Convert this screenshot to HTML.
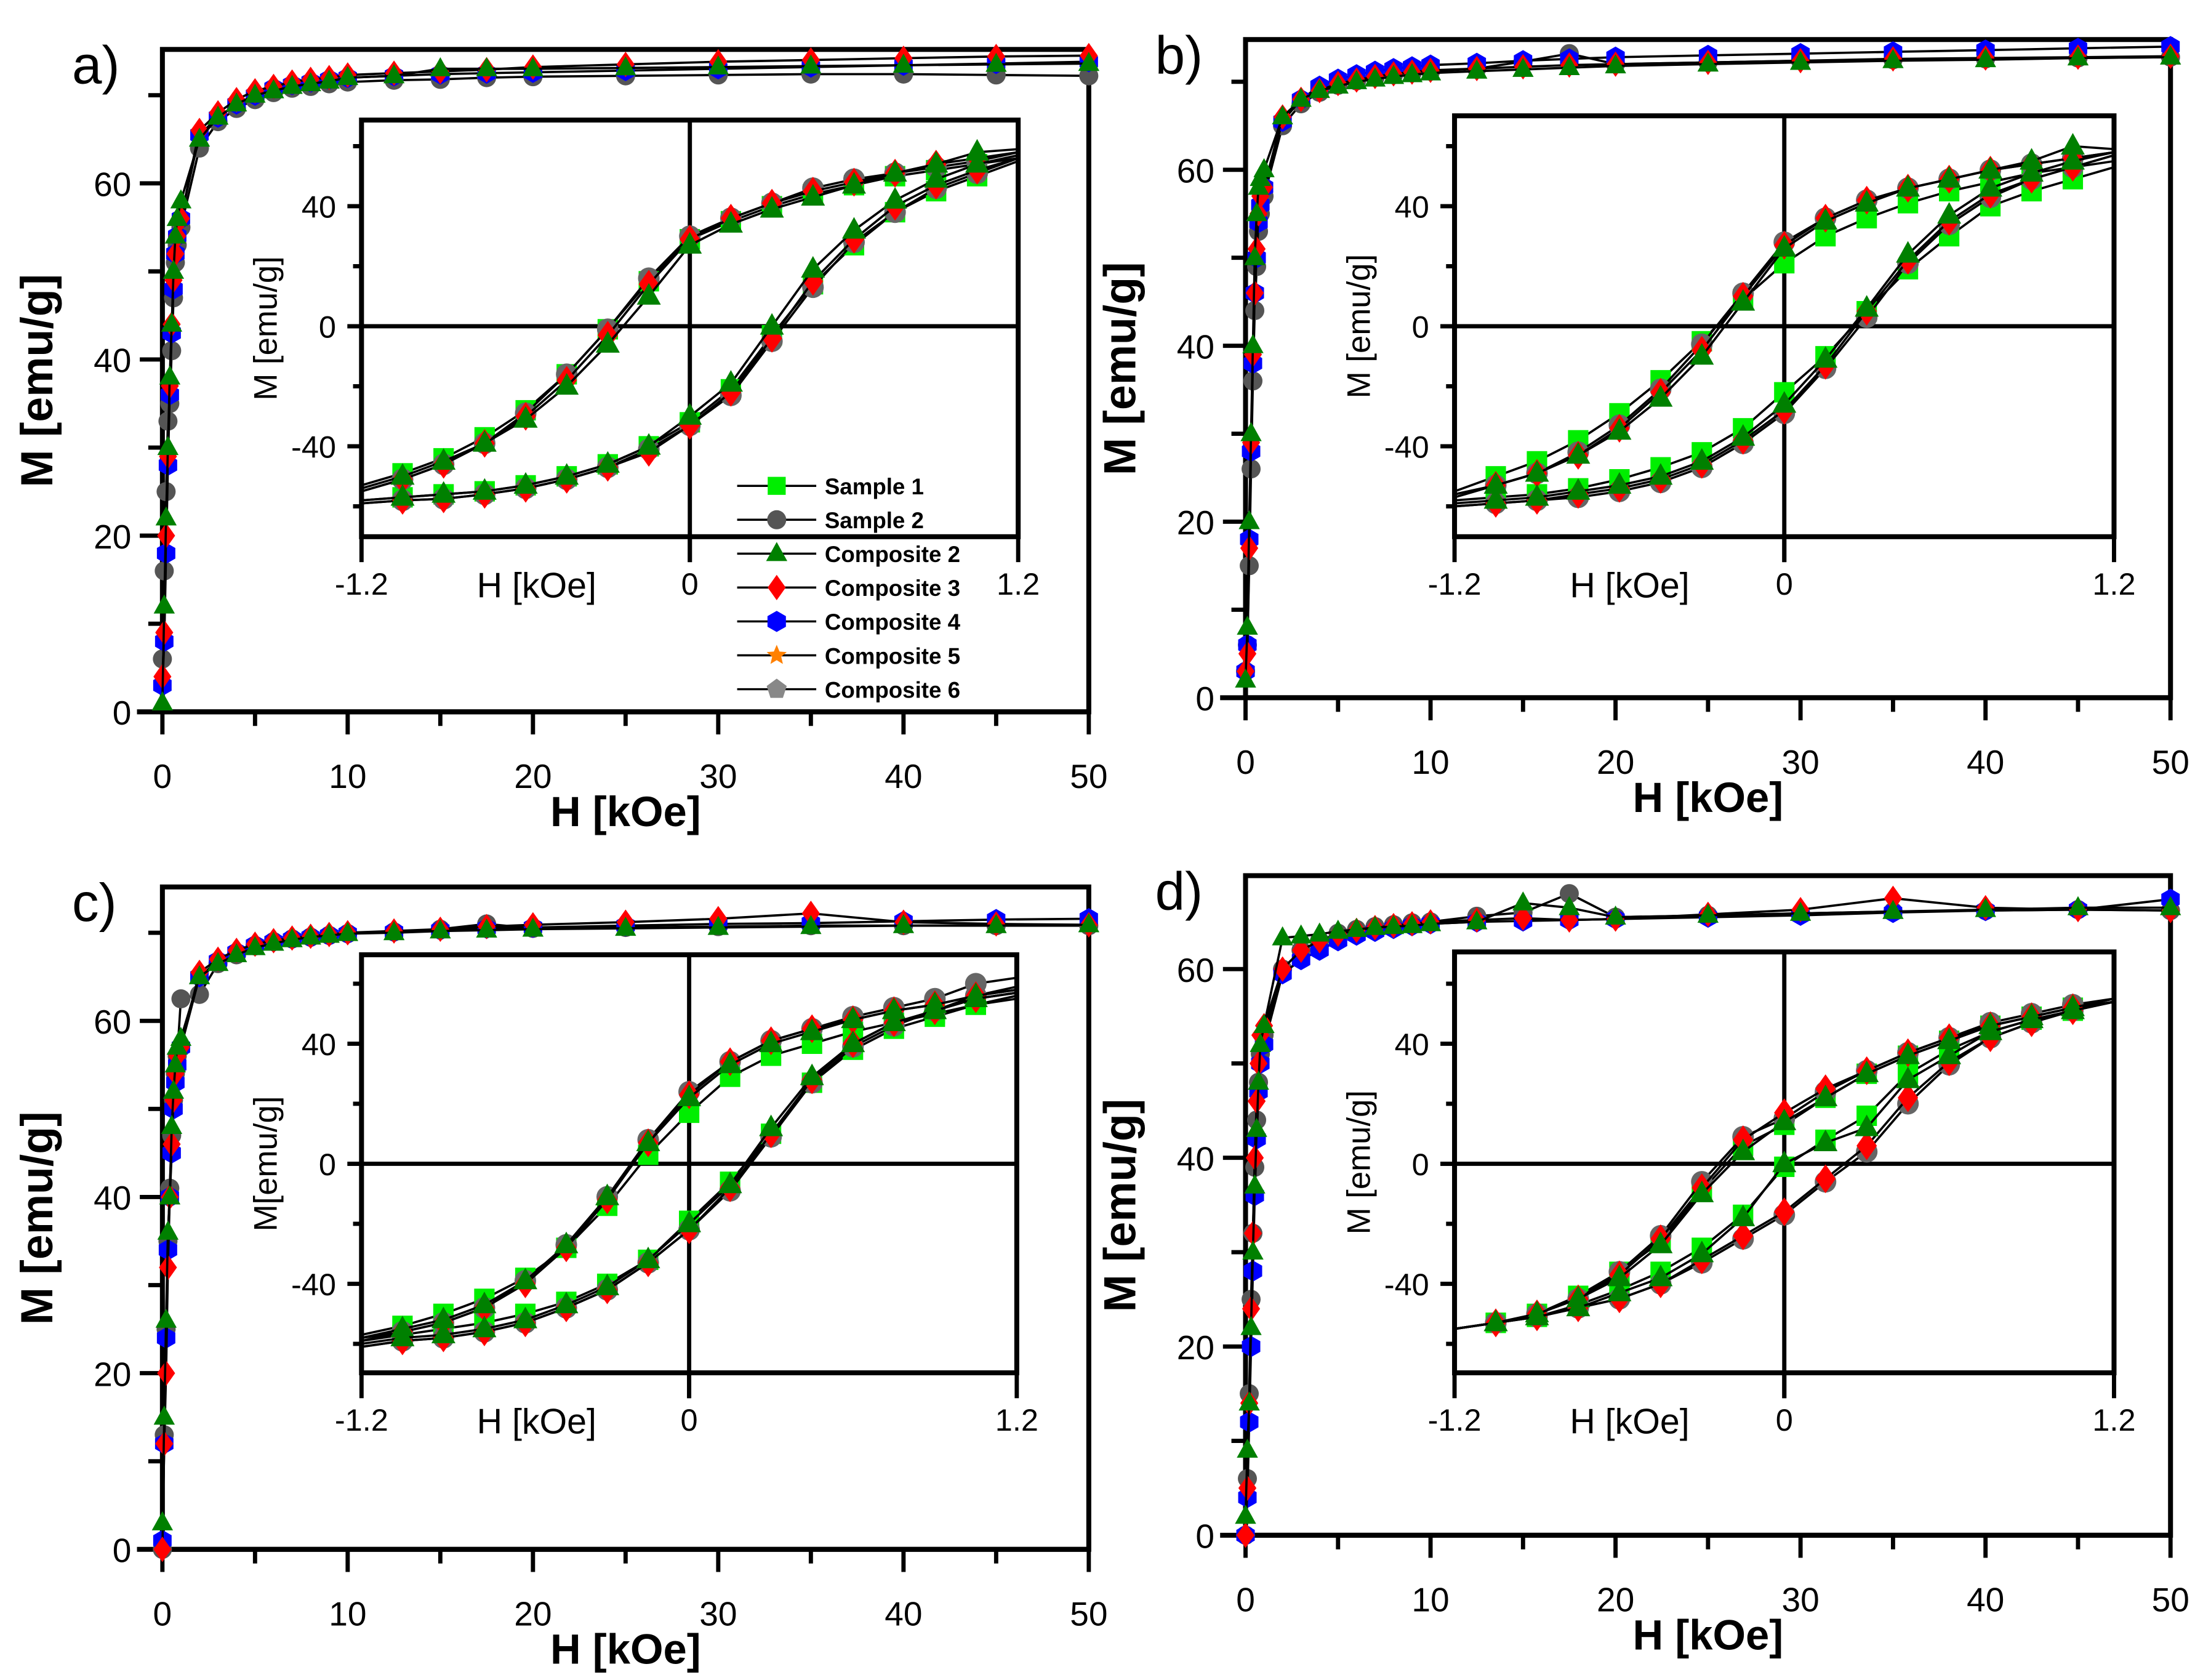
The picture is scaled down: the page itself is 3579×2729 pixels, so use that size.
<!DOCTYPE html>
<html><head><meta charset="utf-8"><style>
html,body{margin:0;padding:0;background:#fff;}
svg{display:block;}
text{font-family:"Liberation Sans",sans-serif;}
</style></head><body>
<svg id="fig" xmlns="http://www.w3.org/2000/svg" width="3579" height="2729" viewBox="0 0 1560 1189.5" preserveAspectRatio="none"></svg>
<script>
const mainH=[0,0.1,0.2,0.3,0.4,0.5,0.6,0.7,0.8,1,2,3,4,5,6,7,8,9,10,12.5,15,17.5,20,25,30,35,40,45,50];
const insetH=[-1.2,-1.05,-0.9,-0.75,-0.6,-0.45,-0.3,-0.15,0,0.15,0.3,0.45,0.6,0.75,0.9,1.05,1.2];
const xTicksMain=[0,10,20,30,40,50];
const yTicksMain=[0,20,40,60];
const yTicksInset=[-40,0,40];
const xTicksInset=[-1.2,0,1.2];
const legendNames=["Sample 1","Sample 2","Composite 2","Composite 3","Composite 4","Composite 5","Composite 6"];

// panel a
const aMainGreen=[1,12,22,30,38,44,50,54,56,58,65,67.5,69,70,70.5,71,71.3,71.6,72,72.2,73,73,73,73.1,73.2,73.3,73.4,73.5,73.6];
const aMainRed=[4,9,20,29,37,44,49,52,54,56,66,68,69.5,70.5,71,71.5,71.8,72,72.3,72.5,72.7,72.9,73.2,73.5,73.8,74,74.2,74.4,74.5];
const aMainBlue=[3,8,18,28,36,43,48,52,54,56,65.5,67.5,69,70,70.8,71.2,71.5,71.8,72,72.2,72.4,72.5,72.6,72.8,73,73.2,73.4,73.6,73.8];
const aMainGray=[6,16,25,33,35,41,47,51,53,55,64,67,68.5,69.5,70.3,70.8,71,71.3,71.5,71.7,71.8,72,72.1,72.2,72.3,72.4,72.4,72.3,72.2];
const aRedUp=[-55,-51,-46,-39,-30,-18,-3,14,29,36,41,45,48,51,54,56,58];
const aRedLow=[-59,-58,-57.5,-56,-54,-51,-47,-42,-33,-22,-4,15,29,40,47,52,56];
const aLimeUp=[-53,-49,-44,-37,-28,-16,-1,15,29,35,40,44,47,50,52,54,56];
const aLimeLow=[-58,-57,-56,-55,-53,-50,-46,-40,-32,-21,-3,14,27,38,45,50,55];
const aGreenUp=[-54,-50,-45,-39,-31,-20,-6,10,27,34,39,43,47,51,54,58,59];
const aGreenLow=[-58,-57,-56,-55,-53,-50,-46,-40,-30,-19,0,19,32,42,49,54,57];
const aGrayUp=[-55,-51,-46,-39,-29,-16,-1,16,30,36,41,46,49,51,53,55,58];
const aGrayLow=[-59,-58,-57.5,-56,-54,-51,-47,-41,-33,-23,-5,13,28,38,46,51,56];
// panel b
const bMainGreen=[2,8,20,30,40,50,55,58,59,60,66,68,69,69.5,70,70.3,70.6,70.8,71,71.2,71.4,71.6,71.8,72,72.2,72.4,72.5,72.7,72.8];
const bMainRed=[3,5,17,29,39,46,51,55,57,58,66,68,69,69.8,70.2,70.6,70.9,71.1,71.3,71.5,71.7,71.9,72,72.2,72.4,72.6,72.7,72.8,72.9];
const bMainBlue=[3,6,18,28,38,46,50,54,56,58,65.5,68,69.5,70.3,70.8,71.2,71.5,71.7,71.9,72.1,72.4,72.6,72.8,73,73.2,73.4,73.6,73.8,74];
const bMainGray=[3,6,15,26,36,44,49,53,55,57,65,67.5,68.8,69.6,70.1,70.5,70.8,71,71.2,71.5,72.3,73.2,72,72.2,72.4,72.5,72.6,72.7,72.8];
const bRedUp=[-56,-53,-49,-43,-34,-22,-8,10,27,36,42,46,49,52,54,56,58];
const bRedLow=[-60,-59,-58,-56,-54,-51,-46,-38,-28,-13,5,22,35,44,49,53,57];
const bLimeUp=[-55,-50,-45,-38,-29,-18,-5,9,21,30,36,41,45,48,51,53,55];
const bLimeLow=[-58,-57,-56,-54,-51,-47,-42,-34,-22,-10,5,19,30,40,45,49,53];
const bGreenUp=[-57,-53,-49,-43,-35,-24,-10,8,26,35,41,46,49,52,55,60,59];
const bGreenLow=[-59,-58,-57,-55,-53,-50,-45,-37,-26,-11,6,24,37,46,51,55,58];
const bGrayUp=[-56,-53,-49,-42,-33,-21,-6,11,28,36,42,46,49,52,54,56,58];
const bGrayLow=[-60,-59,-58,-57,-55,-52,-47,-39,-29,-14,3,21,34,43,49,53,57];
// panel c
const cMainGreen=[3,15,26,36,40,48,52,55,57,58,65,66.5,67.5,68.3,68.8,69.2,69.5,69.7,69.9,70,70.2,70.3,70.4,70.5,70.6,70.7,70.8,70.8,70.9];
const cMainRed=[0,12,20,32,40,46,51,54,56,57,65.5,67,68,68.7,69.1,69.4,69.6,69.8,70,70.2,70.4,70.7,70.9,71.2,71.6,72.2,71.2,71,70.9];
const cMainBlue=[1,12,24,34,40,45,50,53,55,57,65,66.8,67.8,68.6,69,69.3,69.5,69.7,69.9,70.1,70.3,70.5,70.6,70.8,71,71.1,71.3,71.5,71.6];
const cMainGray=[0,13,25,35,41,47,51,54,56,62.5,63,66.5,67.5,68.5,69,69.3,69.5,69.7,69.9,70.1,70.4,71,70.5,70.6,70.7,70.8,70.8,70.8,70.8];
const cRedUp=[-59,-56,-53,-48,-40,-28,-12,7,23,34,41,45,48,51,53,56,58];
const cRedLow=[-61,-59,-58,-56,-53,-48,-42,-33,-22,-8,10,28,40,47,51,55,57];
const cLimeUp=[-57,-54,-50,-45,-38,-28,-14,3,17,29,36,40,44,47,50,53,55];
const cLimeLow=[-59,-57,-55,-53,-50,-46,-40,-32,-19,-6,10,27,38,45,49,53,56];
const cGreenUp=[-58,-55,-52,-47,-39,-27,-11,7,22,33,40,44,48,51,53,56,58];
const cGreenLow=[-60,-58,-57,-55,-52,-47,-41,-32,-20,-7,12,29,40,47,51,55,57];
const cGrayUp=[-58,-56,-53,-48,-39,-27,-11,8,24,34,41,45,49,52,55,60,62];
const cGrayLow=[-61,-59,-58,-56,-53,-48,-42,-33,-22,-9,9,27,39,46,51,56,59];
// panel d
const dMainGreen=[2,9,14,22,30,37,43,48,52,54,63.3,63.5,63.7,64,64.2,64.4,64.5,64.6,64.8,65,67,66.5,65.5,65.7,65.9,66.1,66.3,66.5,66.5];
const dMainRed=[0,5,14,24,32,40,46,50,53,54,60,62,63,63.7,64.1,64.4,64.6,64.8,65,65.2,65.4,65.2,65.3,65.8,66.3,67.5,66.5,66.3,66.2];
const dMainBlue=[0,4,12,20,28,36,42,47,50,52,59.5,61,62,63,63.6,64,64.3,64.6,64.8,65,65.1,65.2,65.3,65.5,65.7,66,66.2,66.3,67.4];
const dMainGray=[0,6,15,25,32,39,44,48,51,53,60,62,63,63.8,64.2,64.5,64.7,64.9,65,65.6,66,68,65.5,65.7,65.9,66.1,66.2,66.3,66.2];
const dRedUp=[-55,-53,-50,-45,-37,-25,-8,8,17,25,31,37,42,46,49,52,54];
const dRedLow=[-55,-53,-51,-48,-45,-40,-32,-24,-16,-5,6,22,34,42,47,51,54];
const dLimeUp=[-55,-53,-50,-44,-36,-26,-9,6,13,22,30,36,41,46,49,52,54];
const dLimeLow=[-55,-53,-51,-47,-42,-36,-28,-17,-1,8,16,30,38,44,48,51,54];
const dGreenUp=[-55,-53,-50,-45,-38,-27,-10,4,14,22,30,36,41,46,49,52,55];
const dGreenLow=[-55,-53,-51,-48,-43,-38,-30,-18,0,7,12,28,36,44,48,51,54];
const dGrayUp=[-55,-53,-50,-45,-36,-24,-6,9,15,24,31,37,42,47,50,53,55];
const dGrayLow=[-55,-53,-51,-48,-45,-40,-33,-25,-17,-6,4,20,33,42,47,51,54];

const NS="http://www.w3.org/2000/svg";
const svg=document.getElementById('fig');
function mk(tag,attrs,parent){const e=document.createElementNS(NS,tag);for(const k in attrs)e.setAttribute(k,attrs[k]);(parent||svg).appendChild(e);return e;}
function marker(kind,x,y,r,fill,g){
  let e;
  if(kind==='square'){e=mk('rect',{x:x-r*0.85,y:y-r*0.85,width:r*1.7,height:r*1.7,fill:fill},g);}
  else if(kind==='circle'){e=mk('circle',{cx:x,cy:y,r:r*0.9,fill:fill},g);}
  else if(kind==='triangle'){e=mk('polygon',{points:`${x},${y-r*1.1} ${x+r},${y+r*0.7} ${x-r},${y+r*0.7}`,fill:fill},g);}
  else if(kind==='diamond'){e=mk('polygon',{points:`${x},${y-r*1.2} ${x+r*0.85},${y} ${x},${y+r*1.2} ${x-r*0.85},${y}`,fill:fill},g);}
  else if(kind==='hexagon'){e=mk('polygon',{points:`${x},${y-r} ${x+r*0.87},${y-r*0.5} ${x+r*0.87},${y+r*0.5} ${x},${y+r} ${x-r*0.87},${y+r*0.5} ${x-r*0.87},${y-r*0.5}`,fill:fill},g);}
  else if(kind==='star'){let p=[];for(let i=0;i<10;i++){const a=-Math.PI/2+i*Math.PI/5;const rr=i%2?r*0.45:r;p.push((x+rr*Math.cos(a)).toFixed(1)+','+(y+rr*Math.sin(a)).toFixed(1));}e=mk('polygon',{points:p.join(' '),fill:fill},g);}
  else {let p=[];for(let i=0;i<5;i++){const a=-Math.PI/2+i*2*Math.PI/5;p.push((x+r*Math.cos(a)).toFixed(1)+','+(y+r*Math.sin(a)).toFixed(1));}e=mk('polygon',{points:p.join(' '),fill:fill},g);}
  
  
  return e;
}
function series(g,xs,ys,sx,sy,kind,fill,name,markerFilter,r){
  const sg=mk('g',{},g);
  
  
  const pts=xs.map((v,i)=>sx(v).toFixed(1)+','+sy(ys[i]).toFixed(1)).join(' ');
  mk('polyline',{points:pts,fill:'none',stroke:'#000','stroke-width':1.6},sg);
  xs.forEach((v,i)=>{if(!markerFilter||markerFilter(v))marker(kind,sx(v),sy(ys[i]),r||8,fill,sg);});
}
function panel(P){
  const g=mk('g',{});
  
  
  const sx=v=>P.L+(v/50)*(P.R-P.L);
  const sy=v=>P.B-(v/P.ymax)*(P.B-P.T);
  const fr=mk('rect',{x:P.L,y:P.T,width:P.R-P.L,height:P.B-P.T,fill:'none',stroke:'#000','stroke-width':3.5},g);
  
  mk('line',{x1:P.L-18,y1:P.B,x2:P.R,y2:P.B,stroke:'#000','stroke-width':3.5},g);
  for(let v=0;v<=50;v+=5){mk('line',{x1:sx(v),y1:P.B,x2:sx(v),y2:P.B+(v%10?10:16),stroke:'#000','stroke-width':3},g);}
  for(let v=0;v<=P.ymax;v+=10){mk('line',{x1:P.L-(v%20?10:16),y1:sy(v),x2:P.L,y2:sy(v),stroke:'#000','stroke-width':3},g);}
  xTicksMain.forEach(v=>{const t=mk('text',{x:sx(v),y:P.B+54,'font-size':24,'text-anchor':'middle'},g);t.textContent=v;});
  yTicksMain.forEach(v=>{const t=mk('text',{x:P.L-22,y:sy(v)+9,'font-size':24,'text-anchor':'end'},g);t.textContent=v;});
  const xt=mk('text',{x:(P.L+P.R)/2,y:P.B+81,'font-size':30,'font-weight':'bold','text-anchor':'middle'},g);xt.textContent='H [kOe]';
  
  const yt=mk('text',{x:0,y:0,'font-size':32,'font-weight':'bold','text-anchor':'middle',transform:`translate(${P.L-78},${(P.T+P.B)/2}) rotate(-90)`},g);yt.textContent='M [emu/g]';
  
  const pl=mk('text',{x:P.L-64,y:P.T+24,'font-size':38},g);pl.textContent=P.label+')';
  
  series(g,mainH,P.main[3],sx,sy,'circle','#555','main-sample-2',null,7.5);
  series(g,mainH,P.main[2],sx,sy,'hexagon','#0000ff','main-composite-4',null,7.5);
  series(g,mainH,P.main[1],sx,sy,'diamond','#ff0000','main-composite-3',null,7.5);
  series(g,mainH,P.main[0],sx,sy,'triangle','#008000','main-composite-2',null,7.5);
  const I=P.inset;
  const ix=v=>I.L+((v+1.2)/2.4)*(I.R-I.L);
  const iy=v=>I.Y0-(v/40)*(I.Y0-I.Y40);
  const ig=mk('g',{},g);
  
  mk('rect',{x:I.L,y:I.T,width:I.R-I.L,height:I.B-I.T,fill:'#fff',stroke:'#000','stroke-width':3.5},ig);
  mk('line',{x1:ix(0),y1:I.T,x2:ix(0),y2:I.B+18,stroke:'#000','stroke-width':3},ig);
  mk('line',{x1:I.L-10,y1:iy(0),x2:I.R,y2:iy(0),stroke:'#000','stroke-width':3},ig);
  xTicksInset.forEach(v=>{mk('line',{x1:ix(v),y1:I.B,x2:ix(v),y2:I.B+18,stroke:'#000','stroke-width':3},ig);
    const t=mk('text',{x:ix(v),y:I.B+41,'font-size':22,'text-anchor':'middle'},ig);t.textContent=v;});
  for(let v=-60;v<=60;v+=20){const y=iy(v);if(y>I.T&&y<I.B)mk('line',{x1:I.L-(v%40?6:10),y1:y,x2:I.L,y2:y,stroke:'#000','stroke-width':3},ig);}
  yTicksInset.forEach(v=>{const t=mk('text',{x:I.L-18,y:iy(v)+8,'font-size':22,'text-anchor':'end'},ig);t.textContent=v;});
  const ixt=mk('text',{x:I.L+124,y:I.B+43,'font-size':25,'text-anchor':'middle'},ig);ixt.textContent='H [kOe]';
  
  const iyt=mk('text',{x:0,y:0,'font-size':23,'text-anchor':'middle',transform:`translate(${I.L-60},${(I.T+I.B)/2}) rotate(-90)`},ig);iyt.textContent=P.ytitle;
  
  const cl=mk('clipPath',{id:'clip'+P.label},svg);mk('rect',{x:I.L,y:I.T,width:I.R-I.L,height:I.B-I.T},cl);
  const dg=mk('g',{'clip-path':`url(#clip${P.label})`},ig);
  const f=v=>Math.abs(v)<1.1;
  const cols=[['square','#00ee00'],['circle','#666'],['triangle','#008000'],['diamond','#ff0000']];
  const names=['inset-sample-1','inset-sample-2','inset-composite-2','inset-composite-3'];
  [0,1,3,2].forEach(k=>{series(dg,insetH,I.up[k],ix,iy,cols[k][0],cols[k][1],names[k]+'-descending',f,8.5);series(dg,insetH,I.low[k],ix,iy,cols[k][0],cols[k][1],names[k]+'-ascending',f,8.5);});
}
panel({label:'a',L:115,R:771,T:35,B:504,ymax:75.2,ytitle:'M [emu/g]',main:[aMainGreen,aMainRed,aMainBlue,aMainGray],
  inset:{L:256,R:721,T:85,B:380,Y0:231,Y40:146,up:[aLimeUp,aGrayUp,aGreenUp,aRedUp],low:[aLimeLow,aGrayLow,aGreenLow,aRedLow]}});
panel({label:'b',L:882,R:1537,T:28,B:494,ymax:74.8,ytitle:'M [emu/g]',main:[bMainGreen,bMainRed,bMainBlue,bMainGray],
  inset:{L:1030,R:1497,T:82,B:380,Y0:231,Y40:146,up:[bLimeUp,bGrayUp,bGreenUp,bRedUp],low:[bLimeLow,bGrayLow,bGreenLow,bRedLow]}});
panel({label:'c',L:115,R:771,T:628,B:1097,ymax:75.2,ytitle:'M[emu/g]',main:[cMainGreen,cMainRed,cMainBlue,cMainGray],
  inset:{L:256,R:720,T:676,B:972,Y0:824,Y40:739,up:[cLimeUp,cGrayUp,cGreenUp,cRedUp],low:[cLimeLow,cGrayLow,cGreenLow,cRedLow]}});
panel({label:'d',L:882,R:1537,T:620,B:1087,ymax:69.9,ytitle:'M [emu/g]',main:[dMainGreen,dMainRed,dMainBlue,dMainGray],
  inset:{L:1030,R:1497,T:674,B:972,Y0:824,Y40:739,up:[dLimeUp,dGrayUp,dGreenUp,dRedUp],low:[dLimeLow,dGrayLow,dGreenLow,dRedLow]}});
const lg=mk('g',{});


const lk=[['square','#00ee00'],['circle','#555'],['triangle','#008000'],['diamond','#ff0000'],['hexagon','#0000ff'],['star','#ff8000'],['pentagon','#888']];
legendNames.forEach((n,i)=>{
  const y=344+i*24;
  const e=mk('g',{},lg);
  
  
  mk('line',{x1:522,y1:y,x2:578,y2:y,stroke:'#000','stroke-width':1.5},e);
  marker(lk[i][0],550,y,7.5,lk[i][1],e);
  const t=mk('text',{x:584,y:y+6,'font-size':16,'font-weight':'bold'},e);t.textContent=n;
});
</script>
</body></html>
